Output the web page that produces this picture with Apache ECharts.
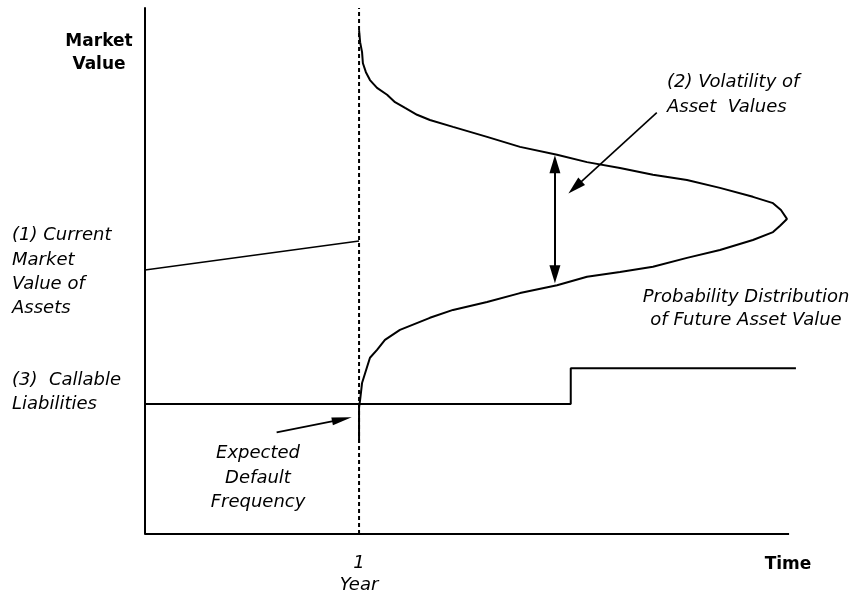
<!DOCTYPE html>
<html>
<head>
<meta charset="utf-8">
<script src="https://cdn.jsdelivr.net/npm/echarts@6/dist/echarts.min.js"></script>
<style>
html,body{margin:0;padding:0;background:#fff;}
#chart{width:851px;height:596px;}
</style>
</head>
<body>
<div id="chart"></div>
<script>
// ---- data (x: years, y: market value on a 0-100 scale) ----
const xTickLabels = { 1: '1\nYear' };
const yearMarker = [[1, 0], [1, 100]];
const timeBaseline = [[0, 0], [3.009, 0]];
const currentAssetValue = [[0, 50.2], [1.0, 55.7]];
const callableLiabilities = [[0, 24.7], [1.989, 24.7], [1.989, 31.5], [3.041, 31.5]];
const distributionX = [1.000, 1.005, 1.014, 1.018, 1.032, 1.051, 1.084, 1.131, 1.168, 1.215, 1.271, 1.331, 1.439, 1.598, 1.752, 1.925, 2.065, 2.219, 2.373, 2.532, 2.686, 2.840, 2.934, 2.971, 2.999, 2.967, 2.934, 2.840, 2.686, 2.532, 2.373, 2.219, 2.065, 1.925, 1.752, 1.598, 1.439, 1.331, 1.191, 1.121, 1.084, 1.051, 1.037, 1.014, 1.005, 1.000, 1.000];
const distributionY = [95.8, 93.5, 91.6, 89.5, 87.8, 86.3, 84.8, 83.5, 82.1, 81.0, 79.7, 78.7, 77.4, 75.5, 73.6, 72.1, 70.7, 69.6, 68.3, 67.3, 65.8, 64.1, 62.9, 61.6, 59.9, 58.6, 57.4, 55.9, 54.0, 52.5, 50.8, 49.8, 48.9, 47.3, 45.8, 44.1, 42.6, 41.1, 38.8, 36.9, 35.0, 33.5, 31.7, 28.7, 25.5, 24.1, 17.3];
const volatilityBar = [[1.915, 70.3], [1.915, 49.4]];
const volatilityPointer = [[2.391, 80.1], [2.009, 65.9]];
const defaultPointer = [[0.615, 19.3], [0.920, 21.8]];

const labels = {
  axisY: ['Market', 'Value'],
  axisX: ['Time'],
  assets: ['(1) Current', 'Market', 'Value of', 'Assets'],
  liabilities: ['(3)  Callable', 'Liabilities'],
  edf: ['Expected', 'Default', 'Frequency'],
  volatility: ['(2) Volatility of', 'Asset  Values'],
  distribution: ['Probability Distribution', 'of Future Asset Value']
};

const distribution = distributionX.map((x, i) => [x, distributionY[i]]);

const FONT = '"DejaVu Sans", "Liberation Sans", Arial, sans-serif';
function textLines(lines, x, ys, align, bold) {
  return lines.map((t, i) => ({
    type: 'text',
    x: x,
    y: ys[i],
    silent: true,
    style: {
      text: t,
      fill: '#000',
      fontFamily: FONT,
      fontSize: bold ? 17 : 18,
      fontStyle: bold ? 'normal' : 'italic',
      fontWeight: bold ? 'bold' : 'normal',
      align: align,
      verticalAlign: 'middle'
    }
  }));
}

const black = '#000';
function lineSeries(data, width, type) {
  return {
    type: 'line',
    data: data,
    symbol: 'none',
    silent: true,
    animation: false,
    lineStyle: { color: black, width: width, type: type || 'solid', cap: 'butt' },
    z: 3
  };
}

const chart = echarts.init(document.getElementById('chart'), null, { renderer: 'canvas' });
chart.setOption({
  backgroundColor: '#fff',
  animation: false,
  grid: { left: 145, right: 51, top: 8, bottom: 62 },
  xAxis: {
    type: 'value', min: 0, max: 3.06, interval: 1,
    axisLine: { show: false }, axisTick: { show: false }, splitLine: { show: false },
    axisLabel: {
      margin: 18,
      formatter: v => xTickLabels[v] || '',
      color: black, fontFamily: FONT, fontSize: 18, fontStyle: 'italic', lineHeight: 22
    }
  },
  yAxis: {
    type: 'value', min: 0, max: 100,
    axisLine: { show: true, lineStyle: { color: black, width: 2 } },
    axisTick: { show: false }, splitLine: { show: false }, axisLabel: { show: false }
  },
  series: [
    lineSeries(yearMarker, 2, [4, 3]),
    lineSeries(timeBaseline, 2),
    lineSeries(currentAssetValue, 1.6),
    lineSeries(callableLiabilities, 2),
    lineSeries(distribution, 2),
    {
      type: 'line', data: [], silent: true,
      markLine: {
        silent: true, animation: false,
        label: { show: false },
        emphasis: { disabled: true },
        lineStyle: { color: black, width: 2, type: 'solid' },
        data: [
          [
            { coord: volatilityBar[0], symbol: 'triangle', symbolSize: [11, 18] },
            { coord: volatilityBar[1], symbol: 'triangle', symbolSize: [11, 18] }
          ],
          [
            { coord: volatilityPointer[0], symbol: 'none', lineStyle: { width: 1.6 } },
            { coord: volatilityPointer[1], symbol: 'triangle', symbolSize: [10, 18] }
          ],
          [
            { coord: defaultPointer[0], symbol: 'none', lineStyle: { width: 1.8 } },
            { coord: defaultPointer[1], symbol: 'triangle', symbolSize: [8, 20] }
          ]
        ]
      }
    }
  ],
  graphic: [].concat(
    textLines(labels.axisY, 99, [42, 65], 'center', true),
    textLines(labels.axisX, 788, [565], 'center', true),
    textLines(labels.assets, 12, [235, 260, 284, 308], 'left'),
    textLines(labels.liabilities, 12, [380, 404], 'left'),
    textLines(labels.edf, 258, [453, 478, 502], 'center'),
    textLines(labels.volatility, 667, [82, 107], 'left'),
    textLines(labels.distribution, 746, [297, 320], 'center')
  )
});
</script>
</body>
</html>
